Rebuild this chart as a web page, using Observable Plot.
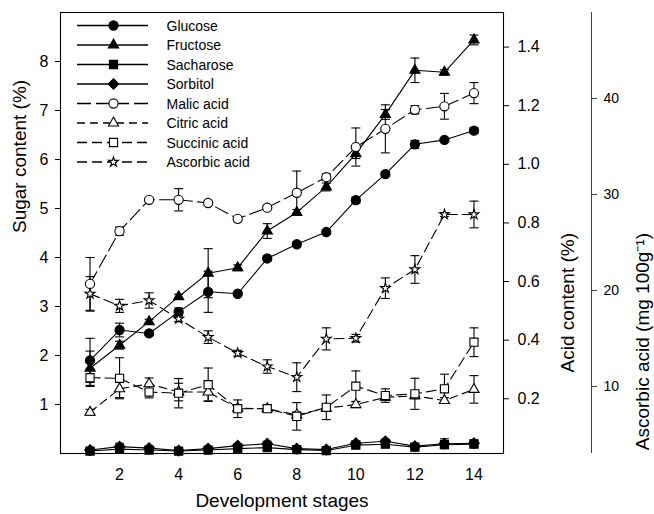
<!DOCTYPE html>
<html><head><meta charset="utf-8">
<script src="https://cdn.jsdelivr.net/npm/d3@7"></script>
<script src="https://cdn.jsdelivr.net/npm/@observablehq/plot@0.6"></script>
<style>body{margin:0;background:#fff}#chart{width:654px;height:514px}</style>
</head><body><div id="chart"></div>
<script>
// ---- data ----
const stages = [1, 2, 3, 4, 5, 6, 7, 8, 9, 10, 11, 12, 13, 14];
const xTicks = [2, 4, 6, 8, 10, 12, 14];
const sugarTicks = [1, 2, 3, 4, 5, 6, 7, 8];
const acidTicks = [0.2, 0.4, 0.6, 0.8, 1.0, 1.2, 1.4];
const ascorbicTicks = [10, 20, 30, 40];
const seriesNames = ["Glucose", "Fructose", "Sacharose", "Sorbitol", "Malic acid", "Citric acid", "Succinic acid", "Ascorbic acid"];

// sugars (%)
const glucose    = [1.90, 2.52, 2.45, 2.89, 3.30, 3.26, 3.98, 4.27, 4.52, 5.17, 5.70, 6.31, 6.40, 6.59];
const glucoseErr = [0.45, 0.14, 0.03, 0.08, 0.42, 0.04, 0.05, 0.05, 0.05, 0.06, 0.05, 0.08, 0.04, 0.06];
const fructose    = [1.74, 2.21, 2.69, 3.20, 3.68, 3.79, 4.54, 4.92, 5.44, 6.12, 6.92, 7.82, 7.78, 8.44];
const fructoseErr = [0.35, 0.08, 0.05, 0.05, 0.50, 0.06, 0.15, 0.06, 0.08, 0.10, 0.10, 0.25, 0.05, 0.10];
const sacharose    = [0.05, 0.09, 0.07, 0.05, 0.07, 0.10, 0.12, 0.08, 0.06, 0.17, 0.19, 0.13, 0.18, 0.19];
const sacharoseErr = [0.02, 0.03, 0.02, 0.02, 0.02, 0.03, 0.03, 0.02, 0.02, 0.03, 0.03, 0.03, 0.05, 0.04];
const sorbitol    = [0.07, 0.14, 0.11, 0.06, 0.10, 0.16, 0.20, 0.10, 0.08, 0.21, 0.25, 0.15, 0.20, 0.21];
const sorbitolErr = [0.02, 0.07, 0.03, 0.02, 0.03, 0.04, 0.05, 0.02, 0.02, 0.04, 0.04, 0.03, 0.10, 0.07];
// acids (%)
const malic    = [0.592, 0.772, 0.879, 0.879, 0.868, 0.814, 0.852, 0.903, 0.956, 1.059, 1.121, 1.186, 1.198, 1.243];
const malicErr = [0.090, 0.014, 0.006, 0.038, 0.006, 0.008, 0.006, 0.074, 0.011, 0.065, 0.082, 0.014, 0.044, 0.036];
const citric    = [0.154, 0.234, 0.251, 0.223, 0.223, 0.168, 0.166, 0.145, 0.168, 0.180, 0.205, 0.210, 0.194, 0.232];
const citricErr = [0.010, 0.030, 0.020, 0.030, 0.030, 0.010, 0.010, 0.010, 0.010, 0.010, 0.010, 0.010, 0.010, 0.047];
const succinic    = [0.272, 0.270, 0.223, 0.219, 0.248, 0.166, 0.166, 0.140, 0.171, 0.243, 0.211, 0.217, 0.234, 0.393];
const succinicErr = [0.030, 0.070, 0.020, 0.050, 0.057, 0.030, 0.010, 0.047, 0.042, 0.052, 0.023, 0.053, 0.050, 0.049];
// ascorbic acid (mg 100g-1)
const ascorbic    = [19.65, 18.40, 18.96, 17.05, 15.14, 13.47, 12.08, 10.97, 14.96, 15.03, 20.24, 22.19, 27.92, 27.92];
const ascorbicErr = [1.80, 0.68, 0.80, 0.30, 0.66, 0.30, 0.70, 1.50, 1.15, 0.40, 1.07, 1.44, 0.20, 1.39];

// ---- axis domains ----
const xDomain = [0, 15];
const sugarDomain = [0, 9];
const acidDomain = [0.0133, 1.518];
const ascorbicDomain = [3.02, 48.96];

// ---- layout ----
const W = 654, H = 514, mL = 60, mR = 151, mT = 12, mB = 61;
const FONT = "'Liberation Sans', Arial, Helvetica, sans-serif";

const toSugar = dom => v => sugarDomain[0] + (v - dom[0]) * (sugarDomain[1] - sugarDomain[0]) / (dom[1] - dom[0]);
const fromSugar = dom => s => dom[0] + (s - sugarDomain[0]) * (dom[1] - dom[0]) / (sugarDomain[1] - sugarDomain[0]);
const identity = v => v;

const series = [
  {name: seriesNames[0], v: glucose,   e: glucoseErr,   conv: identity},
  {name: seriesNames[1], v: fructose,  e: fructoseErr,  conv: identity},
  {name: seriesNames[2], v: sacharose, e: sacharoseErr, conv: identity},
  {name: seriesNames[3], v: sorbitol,  e: sorbitolErr,  conv: identity},
  {name: seriesNames[4], v: malic,     e: malicErr,     conv: toSugar(acidDomain)},
  {name: seriesNames[5], v: citric,    e: citricErr,    conv: toSugar(acidDomain)},
  {name: seriesNames[6], v: succinic,  e: succinicErr,  conv: toSugar(acidDomain)},
  {name: seriesNames[7], v: ascorbic,  e: ascorbicErr,  conv: toSugar(ascorbicDomain)}
];

const styles = {
  "Glucose":       {symbol: "circle",   fill: "black", dash: null,   r: 4.6},
  "Fructose":      {symbol: "triangle", fill: "black", dash: null,   r: 3.8},
  "Sacharose":     {symbol: "square",   fill: "black", dash: null,   r: 4.6},
  "Sorbitol":      {symbol: "diamond2", fill: "black", dash: null,   r: 4.8},
  "Malic acid":    {symbol: "circle",   fill: "white", dash: "14,5", r: 4.6},
  "Citric acid":   {symbol: "triangle", fill: "white", dash: "8,5",  r: 3.8},
  "Succinic acid": {symbol: "square",   fill: "white", dash: "10,5", r: 4.6},
  "Ascorbic acid": {symbol: "star",     fill: "white", dash: "10,5", r: 3.1}
};

const cap = {draw(ctx) { ctx.moveTo(-4.5, 0); ctx.lineTo(4.5, 0); }};

// pixel -> data helpers for the legend placement
const px2x = px => xDomain[0] + (px - mL) * (xDomain[1] - xDomain[0]) / (W - mL - mR);
const py2y = py => sugarDomain[1] - (py - mT) * (sugarDomain[1] - sugarDomain[0]) / (H - mT - mB);

const lineMarks = [], errMarks = [], dotMarks = [], legendMarks = [];
series.forEach((s, si) => {
  const st = styles[s.name];
  const rows = stages.map((x, i) => ({x, y: s.conv(s.v[i]), lo: s.conv(s.v[i] - s.e[i]), hi: s.conv(s.v[i] + s.e[i])}));
  lineMarks.push(Plot.line(rows, {x: "x", y: "y", stroke: "black", strokeWidth: 1.1, strokeDasharray: st.dash}));
  errMarks.push(Plot.ruleX(rows, {x: "x", y1: "lo", y2: "hi", stroke: "black", strokeWidth: 1.1}));
  errMarks.push(Plot.dot(rows, {x: "x", y: "lo", symbol: cap, fill: "none", stroke: "black", strokeWidth: 1.1}));
  errMarks.push(Plot.dot(rows, {x: "x", y: "hi", symbol: cap, fill: "none", stroke: "black", strokeWidth: 1.1}));
  dotMarks.push(Plot.dot(rows, {x: "x", y: "y", symbol: st.symbol, r: st.r, fill: st.fill, stroke: "black", strokeWidth: 1.1}));
  // legend row
  const ly = py2y(25 + si * 19.5);
  legendMarks.push(Plot.ruleY([ly], {x1: px2x(77), x2: px2x(148), stroke: "black", strokeWidth: 1.3, strokeDasharray: st.dash}));
  legendMarks.push(Plot.dot([ly], {x: px2x(113), y: d => d, symbol: st.symbol, r: st.r, fill: st.fill, stroke: "black", strokeWidth: 1.1}));
  legendMarks.push(Plot.text([s.name], {x: px2x(166), y: ly, text: d => d, textAnchor: "start", fontSize: 14, dy: 1, fill: "black"}));
});

const acidFmt = d3.format(".1f");
const fromAcid = fromSugar(acidDomain), fromAsc = fromSugar(ascorbicDomain);

const chart = Plot.plot({
  width: W, height: H,
  marginLeft: mL, marginRight: mR, marginTop: mT, marginBottom: mB,
  style: {fontFamily: FONT, fontSize: "16px", background: "white", color: "black"},
  x: {domain: xDomain},
  y: {domain: sugarDomain},
  marks: [
    Plot.frame({stroke: "black", strokeWidth: 1.1}),
    Plot.axisX({ticks: xTicks, tickSize: 0, tickPadding: 15, fontSize: 16, label: null, tickFormat: d => d}),
    Plot.axisY({anchor: "left", ticks: sugarTicks, tickSize: 5, tickPadding: 7, fontSize: 16, label: null, tickFormat: d => d}),
    Plot.axisY(acidTicks.map(toSugar(acidDomain)), {anchor: "right", tickSize: 5, tickPadding: 9, fontSize: 16, label: null, tickFormat: d => acidFmt(fromAcid(d))}),
    Plot.ruleX([xDomain[1]], {dx: 88, stroke: "#444", strokeWidth: 1}),
    Plot.axisY(ascorbicTicks.map(toSugar(ascorbicDomain)), {anchor: "right", dx: 88, tickSize: 5, tickPadding: 7, fontSize: 14, label: null, stroke: "#444", tickFormat: d => Math.round(fromAsc(d))}),
    Plot.text(["Sugar content (%)"], {frameAnchor: "left", dx: -41, rotate: -90, fontSize: 19, text: d => d, fill: "black"}),
    Plot.text(["Acid content (%)"], {frameAnchor: "right", dx: 64, rotate: -90, fontSize: 19, text: d => d, fill: "black"}),
    Plot.text(["Ascorbic acid (mg 100g\u207B\u00B9)"], {frameAnchor: "right", dx: 139, rotate: -90, fontSize: 19, text: d => d, fill: "black"}),
    Plot.text(["Development stages"], {frameAnchor: "bottom", dy: 53, lineAnchor: "bottom", fontSize: 19, text: d => d, fill: "black"}),
    ...lineMarks,
    ...errMarks,
    ...dotMarks,
    ...legendMarks
  ]
});
document.getElementById("chart").append(chart);
</script>
</body></html>
